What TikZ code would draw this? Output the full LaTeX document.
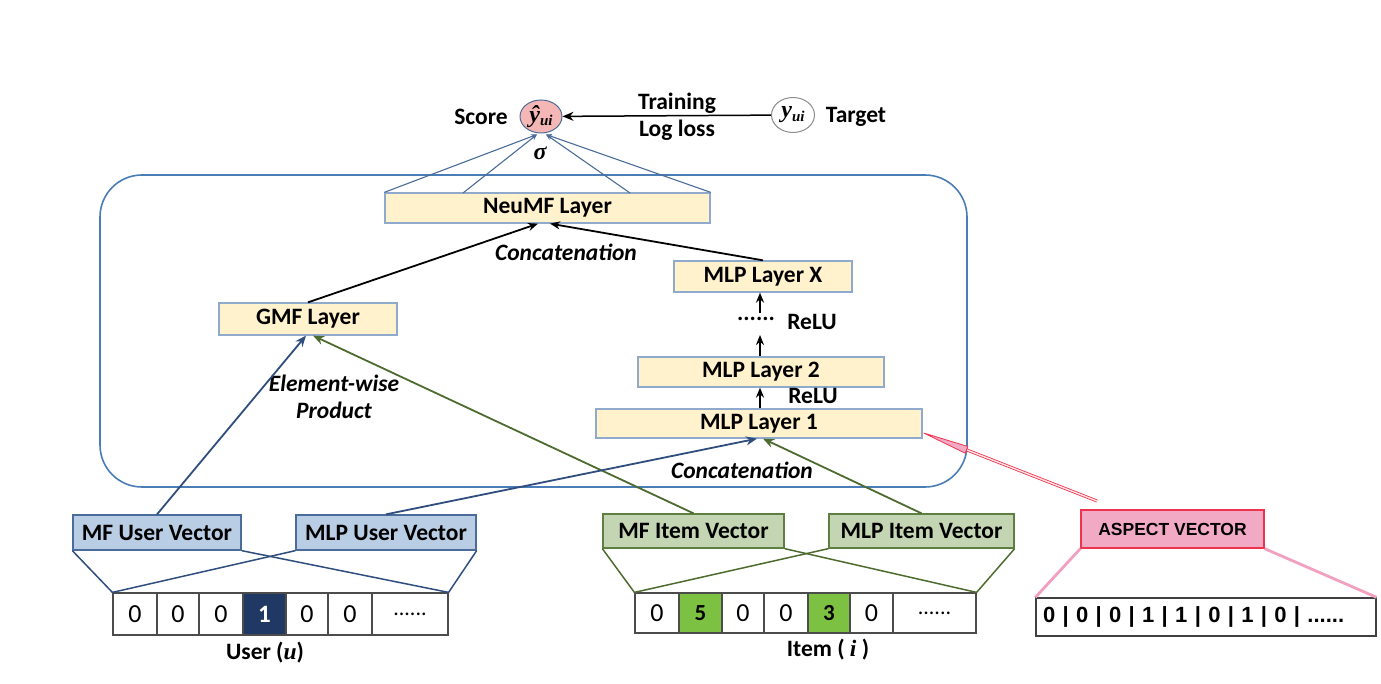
\documentclass[tikz,border=0pt]{standalone}
\usepackage{fontspec}
\setmainfont{Carlito}
\newfontfamily\arialf{Liberation Sans}
\newfontfamily\serf{Liberation Serif}
\usetikzlibrary{arrows.meta,calc,shapes.geometric}
\definecolor{layerfill}{HTML}{FFF2CC}
\definecolor{layerdraw}{HTML}{8FAACC}
\definecolor{frameblue}{HTML}{4A7DB5}
\definecolor{ublue}{HTML}{B9CDE5}
\definecolor{ubluedraw}{HTML}{4A6C9B}
\definecolor{uline}{HTML}{2F4E7E}
\definecolor{gfill}{HTML}{C3D5B2}
\definecolor{gdraw}{HTML}{5F7F40}
\definecolor{gline}{HTML}{4E6B2F}
\definecolor{gcell}{HTML}{7DC143}
\definecolor{navy}{HTML}{1F3864}
\definecolor{aspfill}{HTML}{F2A9C3}
\definecolor{aspdraw}{HTML}{EE3350}
\definecolor{aspline}{HTML}{F2A0C0}
\definecolor{yhatfill}{HTML}{F5B7B5}
\definecolor{thinline}{HTML}{4C6C98}
\begin{document}
\begin{tikzpicture}[x=1pt,y=-1pt,
  txt/.style={font=\fontsize{23.5}{26}\selectfont\bfseries},
  itxt/.style={font=\fontsize{23.5}{26}\selectfont\bfseries\itshape},
  layer/.style={draw=layerdraw, fill=layerfill, line width=1.3pt, inner sep=0, txt},
  uvec/.style={draw=ubluedraw, fill=ublue, line width=1.3pt, inner sep=0, txt, minimum height=35pt},
  ivec/.style={draw=gdraw, fill=gfill, line width=1.3pt, inner sep=0, txt, minimum height=34pt},
  cell/.style={draw=black!70, line width=1.2pt, inner sep=0, font=\fontsize{26}{28}\selectfont},
  blk/.style={line width=1.8pt, -{Stealth[length=10pt,width=8pt]}},
  uarr/.style={uline, line width=1.8pt, -{Stealth[length=11pt,width=9pt]}},
  garr/.style={gline, line width=1.8pt, -{Stealth[length=11pt,width=9pt]}},
  thin/.style={thinline, line width=1.1pt, -{Stealth[length=6pt,width=5pt]}},
  ulink/.style={uline, line width=1.5pt},
  glink/.style={gline, line width=1.5pt},
  plink/.style={aspline, line width=2.8pt}
]
\useasboundingbox (0,0) rectangle (1381,684);

% frame
\node[draw=frameblue, line width=1.6pt, rounded corners=42pt, minimum width=867pt, minimum height=312pt, inner sep=0] (frame) at (533.5,331) {};

% top
\node[txt] (score) at (481,117) {Score};
\node[ellipse, draw=thinline, fill=yhatfill, line width=1pt, minimum width=42pt, minimum height=33pt, inner sep=0] (yhat) at (541,116.5)
  {\serf\bfseries\itshape\fontsize{24}{24}\selectfont ŷ\raisebox{-0.3ex}{\fontsize{15}{15}\selectfont ui}};
\node[ellipse, draw=black!45, line width=1pt, minimum width=43pt, minimum height=35pt, inner sep=0] (ytgt) at (793,115)
  {\serf\bfseries\itshape\fontsize{24}{24}\selectfont y\raisebox{-0.3ex}{\fontsize{15}{15}\selectfont ui}};
\node[txt] (target) at (856,117) {Target};
\node[txt] (training) at (677,103) {Training};
\node[txt] (logloss) at (677,130) {Log loss};
\draw[line width=1.5pt, -{Stealth[length=11pt,width=9pt]}] (ytgt) -- (yhat);
\node[font=\serf\bfseries\itshape\fontsize{24}{24}\selectfont] (sigma) at (540,153) {σ};

% layers
\node[layer, minimum width=325pt, minimum height=30pt] (neumf) at (547.5,208) {NeuMF Layer};
\node[layer, minimum width=178pt, minimum height=32pt] (gmf) at (308,319) {GMF Layer};
\node[layer, minimum width=178pt, minimum height=31pt] (mlpx) at (763,276.5) {MLP Layer X};
\node[layer, minimum width=246pt, minimum height=30pt] (mlp2) at (761,372) {MLP Layer 2};
\node[layer, minimum width=326pt, minimum height=29pt] (mlp1) at (759,423.5) {MLP Layer 1};

\coordinate (t1) at (463,193);
\coordinate (t2) at (630,193);
\draw[thin] (neumf.north west) -- ($(yhat.south)+(-4,1)$);
\draw[thin] (t1) -- ($(yhat.south)+(-4,1)$);
\draw[thin] (t2) -- ($(yhat.south)+(5,1)$);
\draw[thin] (neumf.north east) -- ($(yhat.south)+(5,1)$);

\node[itxt] (concat1) at (566,252) {Concatenation};
\node[itxt] (ew) at (334,383) {Element-wise};
\node[itxt] (prod) at (334,410) {Product};
\node[itxt] (concat2) at (742,470) {Concatenation};
\node[txt] (dots) at (756,319) {......};
\node[txt] (relu1) at (812,322) {ReLU};
\node[txt] (relu2) at (813,396) {ReLU};

\coordinate (d1) at (760,335);
\coordinate (d2) at (760,313);
\draw[blk] (mlp2.north -| d1) -- (d1);
\draw[blk] (d2) -- (d2 |- mlpx.south);
\draw[blk] (mlp1.north -| d1) -- (d1 |- mlp2.south);
\draw[blk] (gmf.north) -- ($(neumf.south)+(-9.5,0)$);
\draw[blk] (mlpx.north) -- ($(neumf.south)+(2.5,0)$);

% vectors
\node[uvec, minimum width=168pt] (mfu) at (157,532.5) {MF User Vector};
\node[uvec, minimum width=180pt] (mlpu) at (386,532.5) {MLP User Vector};
\node[ivec, minimum width=181pt] (mfi) at (693.5,531) {MF Item Vector};
\node[ivec, minimum width=185pt] (mlpi) at (921.5,531) {MLP Item Vector};

\draw[uarr] (mfu.north) -- ($(gmf.south)+(-2,0)$);
\draw[garr] (mfi.north) -- ($(gmf.south)+(5,0)$);
\draw[uarr] (mlpu.north) -- ($(mlp1.south)+(-2,0)$);
\draw[garr] (mlpi.north) -- ($(mlp1.south)+(4,0)$);

% user row
\node[cell, minimum width=44pt, minimum height=42pt] (u1) at (135,614) {0};
\node[cell, minimum width=42pt, minimum height=42pt] (u2) at (178,614) {0};
\node[cell, minimum width=44pt, minimum height=42pt] (u3) at (221,614) {0};
\node[cell, minimum width=43pt, minimum height=42pt, fill=navy, text=white, font=\fontsize{25}{26}\selectfont\bfseries] (u4) at (264.5,614) {1};
\node[cell, minimum width=42pt, minimum height=42pt] (u5) at (307,614) {0};
\node[cell, minimum width=44pt, minimum height=42pt] (u6) at (350,614) {0};
\node[cell, minimum width=76pt, minimum height=42pt, font=\fontsize{22}{24}\selectfont] (u7) at (410,614) {......};
\node[txt] (ulabel) at (265,653) {User ({\serf\itshape u})};

\draw[ulink] (mfu.south west) -- (u1.north west);
\draw[ulink] (mfu.south east) -- (u7.north east);
\draw[ulink] (mlpu.south west) -- (u1.north west);
\draw[ulink] (mlpu.south east) -- (u7.north east);

% item row
\node[cell, minimum width=44pt, minimum height=40pt] (i1) at (657,613) {0};
\node[cell, minimum width=43pt, minimum height=40pt, fill=gcell, font=\fontsize{23}{24}\selectfont\bfseries] (i2) at (700.5,613) {5};
\node[cell, minimum width=42pt, minimum height=40pt] (i3) at (743,613) {0};
\node[cell, minimum width=44pt, minimum height=40pt] (i4) at (786,613) {0};
\node[cell, minimum width=42pt, minimum height=40pt, fill=gcell, font=\fontsize{23}{24}\selectfont\bfseries] (i5) at (829,613) {3};
\node[cell, minimum width=43pt, minimum height=40pt] (i6) at (871.5,613) {0};
\node[cell, minimum width=83pt, minimum height=40pt, font=\fontsize{22}{24}\selectfont] (i7) at (934.5,613) {......};
\node[txt] (ilabel) at (828,650) {Item ( {\serf\itshape i} )};

\draw[glink] (mfi.south west) -- (i1.north west);
\draw[glink] (mfi.south east) -- (i7.north east);
\draw[glink] (mlpi.south west) -- (i1.north west);
\draw[glink] (mlpi.south east) -- (i7.north east);

% aspect
\node[draw=aspdraw, fill=aspfill, line width=1.3pt, minimum width=183pt, minimum height=38pt, inner sep=0, font=\arialf\bfseries\fontsize{17.5}{20}\selectfont] (asp) at (1172.5,529) {ASPECT VECTOR};
\node[draw=black!75, line width=1.3pt, minimum width=340pt, minimum height=38pt, inner sep=0, text width=326pt, align=left, font=\arialf\bfseries\fontsize{22}{24}\selectfont] (asprow) at (1206,617) {0 | 0 | 0 | 1 | 1 | 0 | 1 | 0 | ......};
\draw[plink] (asp.south west) -- (asprow.north west);
\draw[plink] (asp.south east) -- (asprow.north east);

\coordinate (asptail) at (1097,501);
\coordinate (tip) at ($(mlp1.east)+(1,9.5)$);
\coordinate (headbase) at ($(tip)!46pt!(asptail)$);
\draw[aspdraw, double=pink!45, double distance=1.4pt, line width=0.8pt] (asptail) -- (headbase);
\draw[aspdraw, line width=0.8pt, fill=aspfill] (tip) -- ($(headbase)!3.6pt!90:(tip)$) -- ($(headbase)!3.6pt!-90:(tip)$) -- cycle;
\end{tikzpicture}
\end{document}
